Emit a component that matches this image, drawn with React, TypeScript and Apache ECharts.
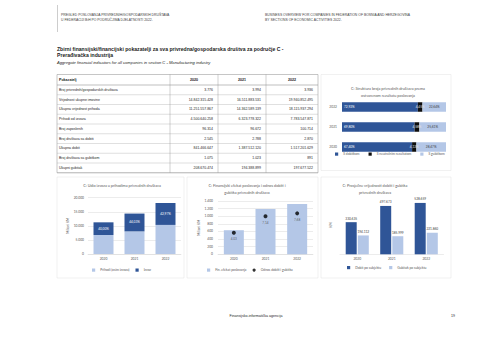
import { useEffect, useRef } from "react";
import * as echarts from "echarts";

const headerLeft = [
  "PREGLED POSLOVANJA PRIVREDNIH/GOSPODARSKIH DRUŠTAVA",
  "U FEDERACIJI BiH PO PODRUČJIMA DJELATNOSTI 2022.",
];
const headerRight = [
  "BUSINESS OVERVIEW FOR COMPANIES IN FEDERATION OF BOSNIA AND HERZEGOVINA",
  "BY SECTIONS OF ECONOMIC ACTIVITIES 2022.",
];
const pageTitle = [
  "Zbirni finansijski/financijski pokazatelji za sva privredna/gospodarska društva za područje C -",
  "Prerađivačka industrija",
];
const pageSubtitle = "Aggregate financial indicators for all companies in section C - Manufacturing industry";
const footerText = "Finansijsko-informatička agencija";
const pageNumber = "19";

const tableHeader = ["Pokazatelj", "2020", "2021", "2022"];
const indicators = [
  "Broj privrednih/gospodarskih društava",
  "Vrijednost ukupne imovine",
  "Ukupna vrijednost prihoda",
  "Prihodi od izvoza",
  "Broj zaposlenih",
  "Broj društava sa dobiti",
  "Ukupna dobit",
  "Broj društava sa gubitkom",
  "Ukupni gubitak",
];
const values2020 = ["3.776", "14.842.315.428", "11.251.557.867", "4.500.640.258", "96.314", "2.545", "841.466.647", "1.075", "208.670.474"];
const values2021 = ["3.994", "16.511.883.531", "14.362.589.139", "6.323.778.322", "96.672", "2.788", "1.387.512.120", "1.023", "194.388.899"];
const values2022 = ["3.936", "19.940.852.495", "18.115.937.294", "7.783.547.871", "100.714", "2.870", "1.517.201.629", "891", "197.677.522"];

const years = ["2020", "2021", "2022"];

const structureTitle = "C: Struktura broja privrednih društava prema\nostvarenom rezultatu poslovanja";
const structureNames = ["S dobitkom", "S neutralnim rezultatom", "S gubitkom"];
const shareProfit = [67.4, 69.8, 72.92];
const shareNeutral = [4.13, 4.58, 4.45];
const shareLoss = [28.47, 25.61, 22.64];

const exportTitle = "C: Udio izvoza u prihodima privrednih društava";
const exportNames = ["Prihodi (osim izvoza)", "Izvoz"];
const domesticRevenue = [6750.92, 8038.81, 10332.39];
const exportRevenue = [4500.64, 6323.78, 7783.55];
const exportShare = ["40,00%", "44,03%", "42,97%"];

const effectTitle = "C: Finansijski efekat poslovanja i odnos dobiti i\ngubitka privrednih društava";
const effectNames = ["Fin. efekat poslovanja", "Odnos dobiti i gubitka"];
const financialEffect = [632.8, 1193.12, 1319.52];
const profitLossRatio = [4.03, 7.14, 7.68];

const avgTitle = "C: Prosječne vrijednosti dobiti i gubitka\nprivrednih društava";
const avgNames = ["Dobit po subjektu", "Gubitak po subjektu"];
const avgProfit = [330635, 497673, 528659];
const avgLoss = [194112, 185999, 221860];

const DARK = "#2f5597";
const LIGHT = "#b4c7e7";
const NEUTRAL = "#0d0d0d";
const GRID = "#d9d9d9";
const LABEL = "#595959";
const CF = "Lato, 'Open Sans', sans-serif";
const TF = "'Liberation Sans', Arial, sans-serif";

const dots = (n: number) => Math.round(n).toString().replace(/\B(?=(\d{3})+(?!\d))/g, ".");
const pct = (n: number) => n.toFixed(2).replace(".", ",") + "%";
const dec = (n: number) => n.toFixed(2).replace(".", ",");

function txt(text: string, x: number, y: number, font: string, align = "left", fill = "#262626") {
  return {
    type: "text",
    silent: true,
    style: { text, x, y, font, fill, align, verticalAlign: "middle", textAlign: align, textVerticalAlign: "middle" },
  };
}
function ln(x1: number, y1: number, x2: number, y2: number, stroke: string, lineWidth = 0.4) {
  return { type: "line", silent: true, shape: { x1, y1, x2, y2 }, style: { stroke, lineWidth } };
}

function buildGraphic() {
  const g: any[] = [];
  g.push(ln(57.5, 5, 57.5, 32, "#9a9a9a", 0.5));
  headerLeft.forEach((t, i) => g.push(txt(t, 61, 14.7 + i * 5.6, `3.4px ${TF}`, "left", "#404040")));
  headerRight.forEach((t, i) => g.push(txt(t, 265, 14.7 + i * 5.6, `3.4px ${TF}`, "left", "#404040")));
  pageTitle.forEach((t, i) => g.push(txt(t, 57, 48.5 + i * 6.3, `bold 5.1px ${TF}`, "left", "#1a1a1a")));
  g.push(txt(pageSubtitle, 57, 62, `italic 4.1px ${TF}`, "left", "#262626"));

  // table
  const colX = [57, 170, 218, 266, 318];
  const top = 74.5;
  const headH = 10.5;
  const rowH = 9.75;
  const bottom = top + headH + rowH * indicators.length;
  g.push({ type: "rect", silent: true, shape: { x: 57, y: top, width: 261, height: bottom - top }, style: { fill: "#fff", stroke: "#8c8c8c", lineWidth: 0.5 } });
  for (let i = 0; i <= indicators.length; i++) {
    const y = top + headH + i * rowH;
    g.push(ln(57, y, 318, y, i === 0 ? "#7f7f7f" : "#a6a6a6", i === 0 ? 0.5 : 0.35));
  }
  colX.slice(1, 4).forEach((x) => g.push(ln(x, top, x, bottom, "#8c8c8c", 0.4)));
  g.push(txt(tableHeader[0], 59, top + headH / 2, `bold 3.6px ${TF}`, "left", "#1a1a1a"));
  for (let c = 1; c < 4; c++) {
    g.push(txt(tableHeader[c], (colX[c] + colX[c + 1]) / 2, top + headH / 2, `bold 3.6px ${TF}`, "center", "#1a1a1a"));
  }
  const cols = [values2020, values2021, values2022];
  indicators.forEach((name, r) => {
    const y = top + headH + rowH * r + rowH / 2;
    g.push(txt(name, 59, y, `3.5px ${TF}`, "left", "#262626"));
    cols.forEach((col, c) => g.push(txt(col[r], colX[c + 2] - 5, y, `3.5px ${TF}`, "right", "#262626")));
  });

  // panels
  const panel = (x: number, y: number, w: number, h: number) => ({
    type: "rect",
    silent: true,
    z: -10,
    shape: { x, y, width: w, height: h },
    style: { fill: "none", stroke: "#e3e3e3", lineWidth: 0.5 },
  });
  g.push(panel(321, 74.5, 130, 96));
  g.push(panel(57, 177, 127, 101));
  g.push(panel(187, 177, 131, 101));
  g.push(panel(321, 177, 130, 101));

  g.push(txt(footerText, 256, 315.7, `3.6px ${TF}`, "center", "#262626"));
  g.push(txt(pageNumber, 453, 315.7, `3.6px ${TF}`, "center", "#262626"));
  return g;
}

const axisLabelStyle = { fontSize: 3.3, color: LABEL, fontFamily: CF };
const titleStyle = { fontSize: 3.8, fontWeight: "normal" as const, color: LABEL, fontFamily: CF, lineHeight: 7 };
const legendText = { fontSize: 3.3, color: LABEL, fontFamily: CF };

function buildOption() {
  return {
    animation: false,
    backgroundColor: "#ffffff",
    textStyle: { fontFamily: CF },
    graphic: buildGraphic(),
    title: [
      { text: structureTitle, left: 388, top: 85, textAlign: "center", padding: 0, textStyle: titleStyle },
      { text: exportTitle, left: 122, top: 181.5, textAlign: "center", padding: 0, textStyle: titleStyle },
      { text: effectTitle, left: 247, top: 181.5, textAlign: "center", padding: 0, textStyle: titleStyle },
      { text: avgTitle, left: 375, top: 181.5, textAlign: "center", padding: 0, textStyle: titleStyle },
    ],
    legend: [
      { data: structureNames, left: 335, top: 152.5, padding: 0, itemWidth: 3.2, itemHeight: 3.2, itemGap: 9, icon: "rect", textStyle: legendText },
      { data: exportNames, left: 92, top: 268.5, padding: 0, itemWidth: 3.2, itemHeight: 3.2, itemGap: 6, icon: "rect", textStyle: legendText },
      {
        data: [{ name: effectNames[0], icon: "rect" }, { name: effectNames[1], icon: "circle" }],
        left: 207, top: 268.5, padding: 0, itemWidth: 3.2, itemHeight: 3.2, itemGap: 6, textStyle: legendText,
      },
      { data: avgNames, left: 347, top: 266, padding: 0, itemWidth: 3.2, itemHeight: 3.2, itemGap: 8, icon: "rect", textStyle: legendText },
    ],
    grid: [
      { left: 342, top: 97, width: 104, height: 60 },
      { left: 88, top: 197.7, width: 93, height: 56.3 },
      { left: 218, top: 201, width: 95, height: 53.3 },
      { left: 340, top: 196, width: 103.5, height: 58.3 },
    ],
    xAxis: [
      { gridIndex: 0, type: "value", min: 0, max: 100, show: false },
      {
        gridIndex: 1, type: "category", data: years,
        axisLine: { lineStyle: { color: GRID, width: 0.5 } }, axisTick: { show: false },
        axisLabel: { ...axisLabelStyle, margin: 3 },
      },
      {
        gridIndex: 2, type: "category", data: years,
        axisLine: { lineStyle: { color: GRID, width: 0.5 } }, axisTick: { show: false },
        axisLabel: { ...axisLabelStyle, margin: 3 },
      },
      {
        gridIndex: 3, type: "category", data: years,
        axisLine: { lineStyle: { color: GRID, width: 0.5 } }, axisTick: { show: false },
        axisLabel: { ...axisLabelStyle, margin: 3 },
      },
    ],
    yAxis: [
      {
        gridIndex: 0, type: "category", data: years,
        axisLine: { show: false }, axisTick: { show: false },
        axisLabel: { ...axisLabelStyle, margin: 5 },
      },
      {
        gridIndex: 1, type: "value", min: 0, max: 20000, interval: 5000,
        name: "Milioni KM", nameLocation: "middle", nameRotate: 90, nameGap: 18,
        nameTextStyle: { ...axisLabelStyle },
        axisLine: { show: false }, axisTick: { show: false },
        axisLabel: { ...axisLabelStyle, margin: 4, formatter: (v: number) => dots(v) },
        splitLine: { lineStyle: { color: GRID, width: 0.5 } },
      },
      {
        gridIndex: 2, type: "value", min: 0, max: 1400, interval: 200,
        name: "Milioni KM", nameLocation: "middle", nameRotate: 90, nameGap: 14,
        nameTextStyle: { ...axisLabelStyle },
        axisLine: { show: false }, axisTick: { show: false },
        axisLabel: { ...axisLabelStyle, margin: 5, formatter: (v: number) => dots(v) },
        splitLine: { lineStyle: { color: GRID, width: 0.5 } },
      },
      { gridIndex: 2, type: "value", min: 0, max: 10, show: false, splitLine: { show: false } },
      {
        gridIndex: 3, type: "value", min: 0, max: 600000,
        name: "KM", nameLocation: "middle", nameRotate: 90, nameGap: 8,
        nameTextStyle: { ...axisLabelStyle },
        axisLine: { show: false }, axisTick: { show: false },
        axisLabel: { show: false }, splitLine: { show: false },
      },
    ],
    series: [
      {
        name: structureNames[0], type: "bar", stack: "st", xAxisIndex: 0, yAxisIndex: 0,
        data: shareProfit, barWidth: 9.5, itemStyle: { color: DARK },
        label: { show: true, position: "insideLeft", distance: 2, color: "#fff", fontSize: 3.2, formatter: (p: any) => pct(p.value) },
      },
      {
        name: structureNames[1], type: "bar", stack: "st", xAxisIndex: 0, yAxisIndex: 0,
        data: shareNeutral, barWidth: 9.5, itemStyle: { color: NEUTRAL },
        label: { show: true, position: "inside", color: "#e6e6e6", fontSize: 3.2, formatter: (p: any) => pct(p.value) },
      },
      {
        name: structureNames[2], type: "bar", stack: "st", xAxisIndex: 0, yAxisIndex: 0,
        data: shareLoss, barWidth: 9.5, itemStyle: { color: LIGHT },
        label: { show: true, position: "inside", color: "#404040", fontSize: 3.2, formatter: (p: any) => pct(p.value) },
      },
      {
        name: exportNames[0], type: "bar", stack: "rev", xAxisIndex: 1, yAxisIndex: 1,
        data: domesticRevenue, barWidth: 20, itemStyle: { color: LIGHT },
      },
      {
        name: exportNames[1], type: "bar", stack: "rev", xAxisIndex: 1, yAxisIndex: 1,
        data: exportRevenue, barWidth: 20, itemStyle: { color: DARK },
        label: { show: true, position: "inside", color: "#fff", fontSize: 3.2, formatter: (p: any) => exportShare[p.dataIndex] },
      },
      {
        name: effectNames[0], type: "bar", xAxisIndex: 2, yAxisIndex: 2,
        data: financialEffect, barWidth: 20, itemStyle: { color: LIGHT },
      },
      {
        name: effectNames[1], type: "scatter", xAxisIndex: 2, yAxisIndex: 3,
        data: profitLossRatio, symbol: "circle", symbolSize: 4, itemStyle: { color: "#000" },
        label: { show: true, position: "bottom", distance: 3, color: "#404040", fontSize: 3.2, formatter: (p: any) => dec(p.value) },
      },
      {
        name: avgNames[0], type: "bar", xAxisIndex: 3, yAxisIndex: 4,
        data: avgProfit, barWidth: 11, barGap: "10%", itemStyle: { color: DARK },
        label: { show: true, position: "top", distance: 2, color: "#404040", fontSize: 3.2, formatter: (p: any) => dots(p.value) },
      },
      {
        name: avgNames[1], type: "bar", xAxisIndex: 3, yAxisIndex: 4,
        data: avgLoss, barWidth: 11, barGap: "10%", itemStyle: { color: LIGHT },
        label: { show: true, position: "top", distance: 2, color: "#404040", fontSize: 3.2, formatter: (p: any) => dots(p.value) },
      },
    ],
  };
}

export default function App() {
  const ref = useRef<HTMLDivElement>(null);
  useEffect(() => {
    if (!ref.current) return;
    const chart = echarts.init(ref.current, null, { renderer: "svg" });
    chart.setOption(buildOption() as any);
    return () => chart.dispose();
  }, []);
  return (
    <div
      ref={ref}
      style={{ position: "absolute", left: 0, top: 0, width: 480, height: 339, background: "#ffffff" }}
    />
  );
}
